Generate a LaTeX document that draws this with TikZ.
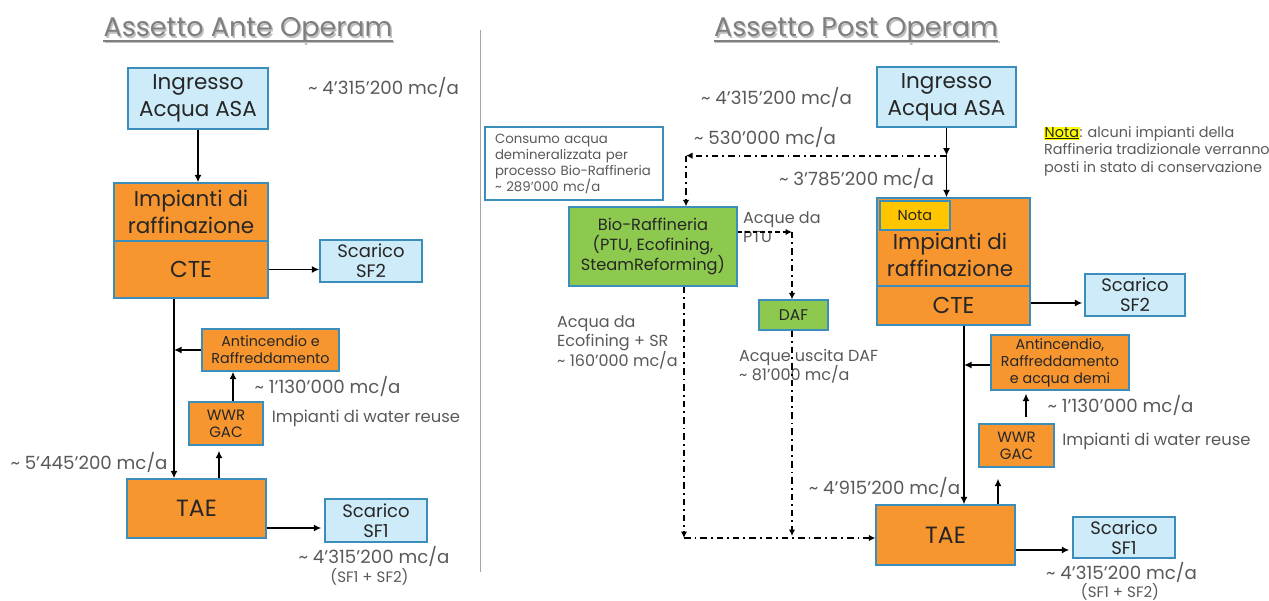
\documentclass[tikz,border=0pt]{standalone}
\usepackage{fontspec}
\setmainfont{Poppins}
\usetikzlibrary{arrows.meta}
\definecolor{cblue}{HTML}{CDEBF8}
\definecolor{cbord}{HTML}{3B8EBB}
\definecolor{corange}{HTML}{F7962F}
\definecolor{cgreen}{HTML}{8DC94E}
\definecolor{cyellow}{HTML}{FFC600}
\definecolor{ctext}{HTML}{262626}
\definecolor{cgray}{HTML}{595959}
\definecolor{ctitle}{HTML}{7F7F7F}
\definecolor{cshadow}{HTML}{BFBFBF}
\definecolor{chl}{HTML}{FFFF00}
\newcommand{\fs}[2]{\fontsize{#1}{#2}\selectfont}
\tikzset{
  box/.style={draw=cbord, line width=1.3pt, inner sep=0pt, text=ctext, align=center},
  bluebox/.style={box, fill=cblue},
  orangebox/.style={box, fill=corange},
  greenbox/.style={box, fill=cgreen},
  lbl/.style={text=cgray, inner sep=0pt, font=\fs{18.2}{22}},
  lblsmall/.style={text=cgray, inner sep=0pt, font=\fs{16}{19.5}, align=left},
  arr/.style={line width=1.9pt, -{Latex[length=7.5pt,width=7pt]}},
  dd/.style={line width=1.9pt, dash pattern=on 6.5pt off 4pt on 1.8pt off 4pt},
  sarr/.style={-{Latex[length=6.5pt,width=6.5pt]}},
  titlestyle/.style={text=ctitle, inner sep=0pt, font=\fs{27}{32}},
  shadowstyle/.style={text=cshadow, inner sep=0pt, font=\fs{27}{32}}
}
\begin{document}
\begin{tikzpicture}[x=1pt,y=-1pt]
\useasboundingbox (0,0) rectangle (1269,601);

% ---------- titles ----------
\node[shadowstyle, anchor=base] (titleAs) at (249.5,38.5) {Assetto Ante Operam};
\node[titlestyle, anchor=base] (titleA) at (248,37) {Assetto Ante Operam};
\draw[cshadow, line width=2pt] ([yshift=-5.5pt,xshift=1.5pt]titleA.base west) -- ([yshift=-5.5pt,xshift=1.5pt]titleA.base east);
\draw[ctitle, line width=1.3pt] ([yshift=-4pt]titleA.base west) -- ([yshift=-4pt]titleA.base east);

\node[shadowstyle, anchor=base] (titleBs) at (857.5,38.5) {Assetto Post Operam};
\node[titlestyle, anchor=base] (titleB) at (856,37) {Assetto Post Operam};
\draw[cshadow, line width=2pt] ([yshift=-5.5pt,xshift=1.5pt]titleB.base west) -- ([yshift=-5.5pt,xshift=1.5pt]titleB.base east);
\draw[ctitle, line width=1.3pt] ([yshift=-4pt]titleB.base west) -- ([yshift=-4pt]titleB.base east);

% divider
\coordinate (divtop) at (480,30);
\coordinate (divbot) at (480,572);
\draw[gray!70, line width=1pt] (divtop) -- (divbot);

% ---------- ANTE ----------
\node[bluebox, minimum width=140pt, minimum height=61pt, font=\fs{21.5}{27}] (ingA) at (198,98.5) {Ingresso\\Acqua ASA};
\node[orangebox, minimum width=154pt, minimum height=58pt, font=\fs{21.5}{27}] (impTopA) at (191,212) {Impianti di\\raffinazione};
\node[orangebox, minimum width=154pt, minimum height=57pt, font=\fs{23}{27}] (cteA) at (191,269.5) {CTE};
\node[bluebox, minimum width=102pt, minimum height=42pt, font=\fs{18}{20}] (sf2A) at (371,261) {Scarico\\SF2};
\node[orangebox, minimum width=137pt, minimum height=42pt, font=\fs{14.3}{17}] (antA) at (270.5,350) {Antincendio e\\Raffreddamento};
\node[orangebox, minimum width=74pt, minimum height=43pt, font=\fs{15}{17}] (wwrA) at (226,423.5) {WWR\\GAC};
\node[orangebox, minimum width=139pt, minimum height=59pt, font=\fs{23.5}{27}] (taeA) at (196.5,508.5) {TAE};
\node[bluebox, minimum width=102pt, minimum height=43pt, font=\fs{18}{20}] (sf1A) at (376,520.5) {Scarico\\SF1};

\node[lbl] (qA1) at (383.5,87) {\char`\~{} 4’315’200 mc/a};
\node[lbl] (qA2) at (327.5,386) {\char`\~{} 1’130’000 mc/a};
\node[lbl, font=\fs{16.4}{19}] (wrA) at (366,418) {Impianti di water reuse};
\node[lbl] (qA3) at (89,462) {\char`\~{} 5’445’200 mc/a};
\node[lbl] (qA4) at (374,556) {\char`\~{} 4’315’200 mc/a};
\node[lbl, font=\fs{15}{17}] (qA5) at (369.5,577) {(SF1 + SF2)};

\draw[arr] (ingA.south) -- (ingA.south |- impTopA.north);
\draw[arr] (cteA.east) -- (cteA.east -| sf2A.west);
\coordinate (vA) at ([xshift=-17pt]cteA.south);
\draw[arr] (vA) -- (vA |- taeA.north);
\draw[arr] (antA.west) -- (antA.west -| vA);
\coordinate (wA) at ([xshift=7pt]wwrA.north);
\draw[arr] (wA) -- (wA |- antA.south);
\coordinate (tA) at ([xshift=22.5pt]taeA.north);
\draw[arr, shorten >=5pt] (tA) -- (tA |- wwrA.south);
\coordinate (eA) at ([yshift=-19.5pt]taeA.east);
\draw[arr, shorten >=3pt] (eA) -- (eA -| sf1A.west);

% ---------- POST ----------
\node[bluebox, minimum width=139pt, minimum height=60pt, font=\fs{21.5}{27}] (ingB) at (946.5,97) {Ingresso\\Acqua ASA};
\node[box, fill=white, minimum width=178pt, minimum height=73pt, text width=158pt, align=left, text=cgray, font=\fs{13.3}{16}] (conB) at (574,163.5) {Consumo acqua\\demineralizzata per\\processo Bio-Raffineria\\\char`\~{} 289’000 mc/a};
\node[greenbox, minimum width=168pt, minimum height=79pt, font=\fs{16.2}{20}] (bioB) at (653,246.5) {Bio-Raffineria\\(PTU, Ecofining,\\SteamReforming)};
\node[greenbox, minimum width=69pt, minimum height=30pt, font=\fs{15.5}{17}] (dafB) at (793.5,315) {DAF};
\node[orangebox, minimum width=153pt, minimum height=88pt] (impTopB) at (953.5,242) {};
\node[text=ctext, inner sep=0pt, align=center, font=\fs{21.5}{27}] (impTxtB) at (950,255) {Impianti di\\raffinazione};
\node[orangebox, minimum width=153pt, minimum height=39pt, font=\fs{23}{27}] (cteB) at (953.5,305.5) {CTE};
\node[box, fill=cyellow, minimum width=70pt, minimum height=29pt, font=\fs{14.5}{16}] (notaB) at (915,215.5) {Nota};
\node[bluebox, minimum width=100pt, minimum height=42pt, font=\fs{18}{20}] (sf2B) at (1135,295) {Scarico\\SF2};
\node[orangebox, minimum width=138pt, minimum height=55pt, font=\fs{14.3}{17}] (antB) at (1060,362.5) {Antincendio,\\Raffreddamento\\e acqua demi};
\node[orangebox, minimum width=75pt, minimum height=43pt, font=\fs{15}{17}] (wwrB) at (1016.5,445.5) {WWR\\GAC};
\node[orangebox, minimum width=139pt, minimum height=60pt, font=\fs{23.5}{27}] (taeB) at (945.5,535) {TAE};
\node[bluebox, minimum width=102pt, minimum height=41pt, font=\fs{18}{20}] (sf1B) at (1124,537.5) {Scarico\\SF1};

\node[lbl] (qB1) at (776.5,97) {\char`\~{} 4’315’200 mc/a};
\node[lbl] (qB2) at (765,137) {\char`\~{} 530’000 mc/a};
\node[lbl] (qB3) at (856.5,178) {\char`\~{} 3’785’200 mc/a};
\node[lblsmall, anchor=north west] (ptuB) at (743,211) {Acque da\\PTU};
\node[lblsmall, anchor=north west] (ecoB) at (557,315) {Acqua da\\Ecofining + SR\\\char`\~{} 160’000 mc/a};
\node[lblsmall, anchor=north west] (dafL) at (739,349) {Acque uscita DAF\\\char`\~{} 81’000 mc/a};
\node[lbl] (qB4) at (884.5,487) {\char`\~{} 4’915’200 mc/a};
\node[lbl] (qB5) at (1120.5,405) {\char`\~{} 1’130’000 mc/a};
\node[lbl, font=\fs{16.4}{19}] (wrB) at (1156.5,441) {Impianti di water reuse};
\node[lbl] (qB6) at (1121.5,572) {\char`\~{} 4’315’200 mc/a};
\node[lbl, font=\fs{15}{17}] (qB7) at (1120,592) {(SF1 + SF2)};
\node[lblsmall, anchor=north west, font=\fs{14.4}{17.5}] (notaTxt) at (1044,126) {{\setlength{\fboxsep}{0.5pt}\colorbox{chl}{\color{ctext}\underline{Nota}}}: alcuni impianti della\\Raffineria tradizionale verranno\\posti in stato di conservazione};

% connectors post
\coordinate (jB) at ([yshift=-28pt]ingB.south);
\draw[arr] (ingB.south) -- (jB);
\draw[arr] (jB) -- (jB |- impTopB.north);
\coordinate (bioTop) at ([xshift=33pt]bioB.north);
\coordinate (cB) at (jB -| bioTop);
\draw[dd, sarr] (jB) -- (cB);
\draw[dd, sarr] (cB) -- (bioTop);
\coordinate (bioR) at ([yshift=14.5pt]bioB.east);
\coordinate (dafTop) at ([xshift=-1.5pt]dafB.north);
\coordinate (dafBot) at ([xshift=-1.5pt]dafB.south);
\coordinate (pB) at (bioR -| dafTop);
\draw[line width=1.9pt, dash pattern=on 4.5pt off 3pt, sarr] (bioR) -- (pB);
\draw[dd, sarr] (pB) -- (dafTop);
\coordinate (bioBot) at ([xshift=31pt]bioB.south);
\coordinate (taeL) at ([yshift=-3pt]taeB.west);
\coordinate (bB) at (bioBot |- taeL);
\draw[dd, sarr] (bioBot) -- (bB);
\draw[dd, sarr] (bB) -- (taeL);
\draw[dd, sarr, shorten >=2pt] (dafBot) -- (dafBot |- bB);
\coordinate (vB) at ([xshift=10.5pt]cteB.south);
\draw[arr] (vB) -- (vB |- taeB.north);
\coordinate (antL) at ([yshift=-2.5pt]antB.west);
\draw[arr] (antL) -- (antL -| vB);
\coordinate (wB) at ([xshift=9.5pt]wwrB.north);
\draw[arr, shorten <=6pt, shorten >=3pt] (wB) -- (wB |- antB.south);
\coordinate (tB) at ([xshift=52.5pt]taeB.north);
\draw[arr, shorten >=11pt] (tB) -- (tB |- wwrB.south);
\coordinate (cteR) at ([yshift=2.5pt]cteB.east);
\draw[arr, shorten >=2pt] (cteR) -- (cteR -| sf2B.west);
\coordinate (taeR) at ([yshift=-15pt]taeB.east);
\draw[arr, shorten >=3pt] (taeR) -- (taeR -| sf1B.west);
\end{tikzpicture}
\end{document}
